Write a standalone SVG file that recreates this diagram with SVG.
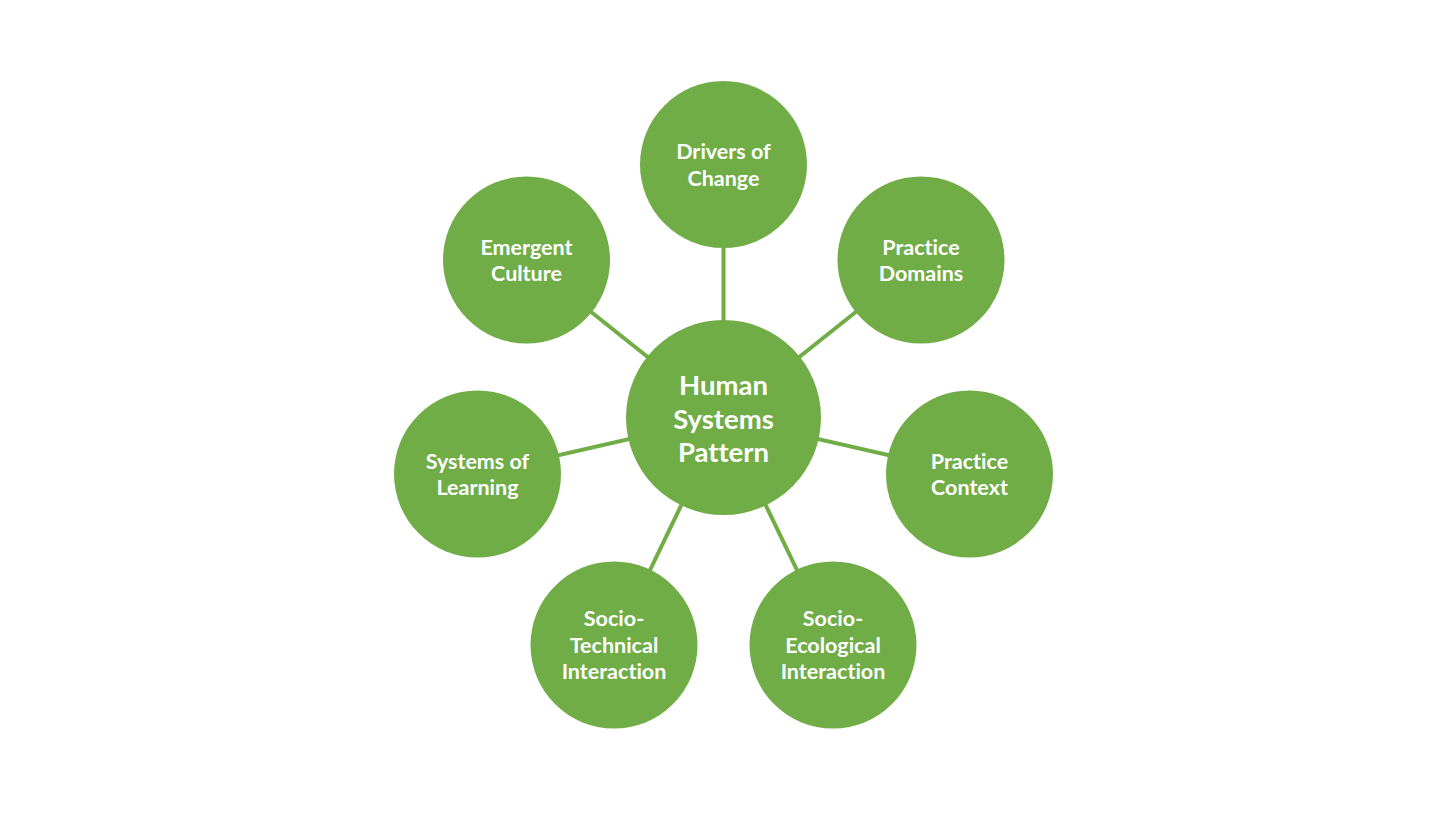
<svg xmlns="http://www.w3.org/2000/svg" width="1456" height="819" viewBox="0 0 1456 819">
<style>
.n{fill:#70AD47}
.c line{stroke:#70AD47;stroke-width:4}
text{font-family:Lato,"Open Sans","Liberation Sans",sans-serif;font-weight:bold;fill:#FFFFFF;text-anchor:middle;font-variant-ligatures:none;font-feature-settings:"liga" 0,"clig" 0,"dlig" 0}
.s{font-size:21.5px}
.b{font-size:27.5px}
</style>
<rect width="1456" height="819" fill="#FFFFFF"/>
<g id="connectors" class="c">
<line x1="723.5" y1="417.5" x2="723.5" y2="164.5"/>
<line x1="723.5" y1="417.5" x2="921.3" y2="259.8"/>
<line x1="723.5" y1="417.5" x2="970.2" y2="473.8"/>
<line x1="723.5" y1="417.5" x2="833.3" y2="645.5"/>
<line x1="723.5" y1="417.5" x2="613.7" y2="645.5"/>
<line x1="723.5" y1="417.5" x2="476.8" y2="473.8"/>
<line x1="723.5" y1="417.5" x2="525.7" y2="259.8"/>
</g>
<g id="center">
<circle class="n" cx="723.5" cy="417.5" r="97.5"/>
<text class="b" x="723.5" y="394.5">Human</text>
<text class="b" x="723.5" y="428.5">Systems</text>
<text class="b" x="723.5" y="462">Pattern</text>
</g>
<g id="drivers">
<circle class="n" cx="723.5" cy="164.5" r="83.5"/>
<text class="s" x="723.5" y="159">Drivers of</text>
<text class="s" x="723.5" y="186">Change</text>
</g>
<g id="domains">
<circle class="n" cx="921" cy="260" r="83.5"/>
<text class="s" x="921" y="254.5">Practice</text>
<text class="s" x="921" y="281">Domains</text>
</g>
<g id="context">
<circle class="n" cx="969.5" cy="474" r="83.5"/>
<text class="s" x="969.5" y="468.5">Practice</text>
<text class="s" x="969.5" y="495">Context</text>
</g>
<g id="ecological">
<circle class="n" cx="833" cy="645" r="83.5"/>
<text class="s" x="833" y="626">Socio-</text>
<text class="s" x="833" y="652.5">Ecological</text>
<text class="s" x="833" y="679">Interaction</text>
</g>
<g id="technical">
<circle class="n" cx="614" cy="645" r="83.5"/>
<text class="s" x="614" y="626">Socio-</text>
<text class="s" x="614" y="652.5">Technical</text>
<text class="s" x="614" y="679">Interaction</text>
</g>
<g id="learning">
<circle class="n" cx="477.5" cy="474" r="83.5"/>
<text class="s" x="477.5" y="468.5">Systems of</text>
<text class="s" x="477.5" y="495">Learning</text>
</g>
<g id="culture">
<circle class="n" cx="526.5" cy="260" r="83.5"/>
<text class="s" x="526.5" y="254.5">Emergent</text>
<text class="s" x="526.5" y="281">Culture</text>
</g>
</svg>
